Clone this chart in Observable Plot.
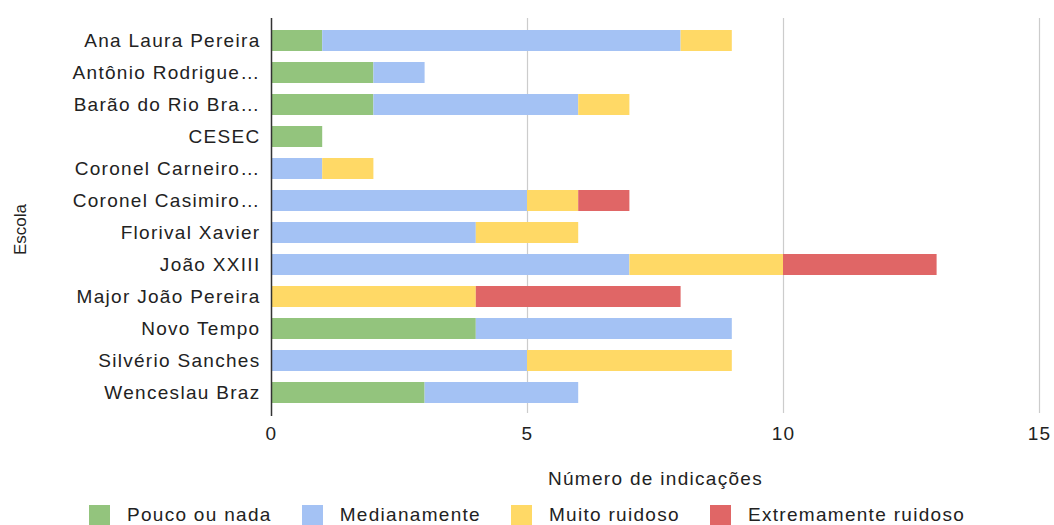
<!DOCTYPE html>
<html><head><meta charset="utf-8">
<script src="https://cdn.jsdelivr.net/npm/d3@7"></script>
<script src="https://cdn.jsdelivr.net/npm/@observablehq/plot@0.6"></script>
<style>
body{margin:0;background:#fff;font-family:"Liberation Sans",Arial,sans-serif;overflow:hidden;}
#legend{display:flex;justify-content:center;align-items:center;height:22px;margin-top:4px;font-size:19px;letter-spacing:1.3px;color:#222;}
#legend .item{display:flex;align-items:center;margin:0 15px;}
#legend .sw{width:21px;height:21px;margin-right:17px;}
</style></head>
<body><div id="chart"></div>
<script>
const escolas = ["Ana Laura Pereira","Antônio Rodrigue…","Barão do Rio Bra…","CESEC","Coronel Carneiro…","Coronel Casimiro…","Florival Xavier","João XXIII","Major João Pereira","Novo Tempo","Silvério Sanches","Wenceslau Braz"];
const series = ["Pouco ou nada","Medianamente","Muito ruidoso","Extremamente ruidoso"];
const cores = ["#93c47d","#a4c2f4","#ffd966","#e06666"];
const poucoOuNada   = [1,2,2,1,0,0,0,0,0,4,0,3];
const medianamente  = [7,1,4,0,1,5,4,7,0,5,5,3];
const muitoRuidoso  = [1,0,1,0,1,1,2,3,4,0,4,0];
const extremamente  = [0,0,0,0,0,1,0,3,4,0,0,0];
const xTicks = [0,5,10,15];

const valores = [poucoOuNada, medianamente, muitoRuidoso, extremamente];
const data = [];
series.forEach((s, i) => escolas.forEach((e, j) => {
  if (valores[i][j] > 0) data.push({escola: e, serie: s, valor: valores[i][j]});
}));

const plot = Plot.plot({
  width: 1054, height: 500,
  marginLeft: 271, marginRight: 15, marginTop: 22, marginBottom: 90,
  style: {fontFamily: "Liberation Sans, Arial, sans-serif", fontSize: "19px", letterSpacing: "1.3px", color: "#222", background: "#fff"},
  x: {domain: [0, 15], ticks: xTicks, tickSize: 0, tickPadding: 16, tickFormat: d => String(d),
      label: "Número de indicações", labelAnchor: "center", labelOffset: 74, labelArrow: "none"},
  y: {domain: escolas, paddingInner: 0.35, paddingOuter: 0.175, tickSize: 0, tickPadding: 11,
      label: "Escola", labelAnchor: "center", labelOffset: 258, labelArrow: "none"},
  color: {domain: series, range: cores},
  marks: [
    Plot.ruleX(xTicks.filter(d => d > 0), {stroke: "#ccc", strokeWidth: 1.2, insetTop: -4, insetBottom: -3}),
    Plot.barX(data, {y: "escola", x: "valor", fill: "serie"}),
    Plot.ruleX([0], {stroke: "#333", strokeWidth: 1.5, insetTop: -4, insetBottom: -6})
  ]
});
document.getElementById("chart").appendChild(plot);
d3.select(plot).selectAll("text").filter(function() { return this.textContent === "Escola"; })
  .style("font-size", "17px").style("letter-spacing", "0px").attr("dx", "-13");

const legend = document.createElement("div");
legend.id = "legend";
series.forEach((s, i) => {
  const item = document.createElement("div");
  item.className = "item";
  const sw = document.createElement("span");
  sw.className = "sw";
  sw.style.background = cores[i];
  const t = document.createElement("span");
  t.textContent = s;
  item.appendChild(sw); item.appendChild(t);
  legend.appendChild(item);
});
document.body.appendChild(legend);
</script>
</body></html>
